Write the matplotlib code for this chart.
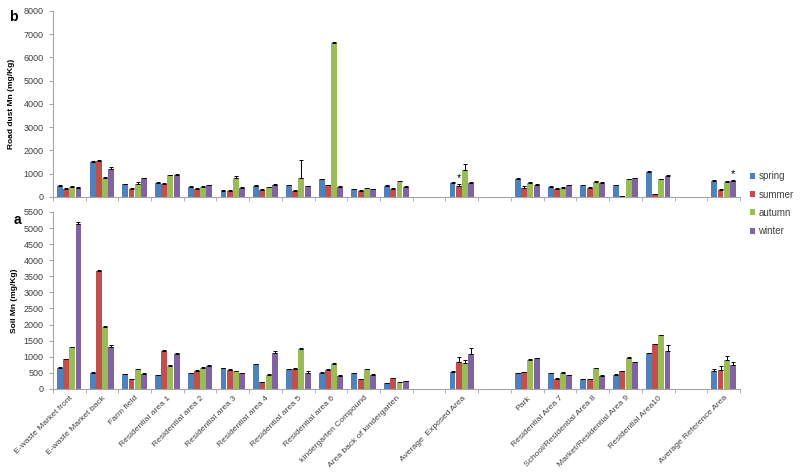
import matplotlib
matplotlib.use("Agg")
import matplotlib.pyplot as plt
import numpy as np

categories = ["E-waste Market front", "E-waste Market back", "Farm field", "Residential area 1",
              "Residential area 2", "Residential area 3", "Residential area 4", "Residential area 5",
              "Residential area 6", "kindergarten Compound", "Area back of kindergarten", "",
              "Average  Exposed Area", "", "Park", "Residential Area 7", "School/Residential Area 8",
              "Market/Residential Area 9", "Residential Area10", "", "Average Reference Area"]
seasons = ["spring", "summer", "autumn", "winter"]
colors = ["#4F81BD", "#C0504D", "#9BBB59", "#8064A2"]

nan = np.nan
# Road dust Mn (mg/Kg)
dust_spring = [480, 1500, 540, 600, 440, 270, 470, 500, 750, 340, 470, nan, 600, nan, 770, 440, 500, 500, 1070, nan, 690]
dust_summer = [340, 1560, 340, 560, 340, 270, 310, 260, 500, 270, 340, nan, 460, nan, 370, 340, 390, 30, 110, nan, 290]
dust_autumn = [440, 790, 570, 940, 440, 830, 410, 790, 6600, 370, 680, nan, 1160, nan, 600, 390, 640, 760, 760, nan, 640]
dust_winter = [400, 1210, 790, 960, 510, 390, 530, 460, 430, 340, 430, nan, 600, nan, 530, 510, 610, 790, 910, nan, 690]
dust_err_spring = [20, 20, 20, 20, 20, 15, 20, 20, 20, 15, 20, nan, 20, nan, 20, 20, 20, 20, 20, nan, 20]
dust_err_summer = [20, 20, 20, 20, 20, 15, 20, 20, 20, 15, 20, nan, 80, nan, 80, 20, 20, 10, 10, nan, 30]
dust_err_autumn = [20, 80, 60, 20, 20, 80, 20, 800, 80, 20, 20, nan, 260, nan, 20, 20, 20, 20, 20, nan, 20]
dust_err_winter = [20, 90, 20, 20, 20, 15, 20, 20, 20, 15, 20, nan, 20, nan, 20, 20, 20, 20, 20, nan, 20]

# Soil Mn (mg/Kg)
soil_spring = [660, 500, 460, 420, 480, 640, 770, 610, 500, 480, 170, nan, 530, nan, 480, 490, 300, 440, 1110, nan, 550]
soil_summer = [920, 3670, 300, 1180, 560, 580, 210, 620, 590, 300, 340, nan, 830, nan, 520, 320, 300, 550, 1390, nan, 600]
soil_autumn = [1290, 1910, 610, 710, 660, 550, 440, 1250, 790, 610, 200, nan, 800, nan, 900, 510, 640, 970, 1670, nan, 910]
soil_winter = [5120, 1310, 460, 1090, 720, 480, 1110, 500, 400, 440, 240, nan, 1090, nan, 950, 420, 400, 830, 1180, nan, 730]
soil_err_spring = [20, 15, 15, 15, 20, 20, 20, 20, 20, 20, 15, nan, 30, nan, 20, 20, 15, 20, 20, nan, 60]
soil_err_summer = [20, 30, 15, 30, 20, 30, 20, 20, 20, 15, 15, nan, 160, nan, 20, 15, 15, 20, 20, nan, 100]
soil_err_autumn = [20, 40, 20, 20, 20, 20, 20, 20, 20, 20, 15, nan, 100, nan, 20, 20, 20, 20, 20, nan, 100]
soil_err_winter = [80, 60, 40, 20, 30, 20, 60, 60, 20, 20, 15, nan, 190, nan, 20, 20, 20, 20, 170, nan, 110]

dust = [dust_spring, dust_summer, dust_autumn, dust_winter]
dust_err = [dust_err_spring, dust_err_summer, dust_err_autumn, dust_err_winter]
soil = [soil_spring, soil_summer, soil_autumn, soil_winter]
soil_err = [soil_err_spring, soil_err_summer, soil_err_autumn, soil_err_winter]

plt.rcParams["font.family"] = ["Liberation Sans", "DejaVu Sans"]

fig = plt.figure(figsize=(8, 4.72), dpi=100)
ax_top = fig.add_axes([0.066, 0.583, 0.859, 0.394])
ax_bot = fig.add_axes([0.066, 0.176, 0.859, 0.375])

x = np.arange(len(categories))
w = 0.19
offsets = (np.arange(4) - 1.5) * w
spine_col = "#A6A6A6"

def draw(ax, data, errs, ymax, step):
    handles = []
    for i in range(4):
        vals = np.array(data[i], dtype=float)
        e = np.array(errs[i], dtype=float)
        h = ax.bar(x + offsets[i], vals, width=w * 0.95, color=colors[i], label=seasons[i],
                   yerr=[np.zeros_like(e), e], error_kw=dict(ecolor="black", elinewidth=0.7,
                                                            capsize=1.5, capthick=0.7))
        handles.append(h)
    ax.set_xlim(-0.5, len(categories) - 0.5)
    ax.set_ylim(0, ymax)
    ax.set_yticks(np.arange(0, ymax + 1, step))
    ax.set_xticks(np.arange(-0.5, len(categories) + 0.5, 1), minor=True)
    ax.tick_params(axis="x", which="minor", length=3, color=spine_col, direction="out")
    ax.tick_params(axis="x", which="major", length=0)
    ax.tick_params(axis="y", labelsize=6.5, length=3, color=spine_col, colors="#404040")
    for s in ["top", "right"]:
        ax.spines[s].set_visible(False)
    for s in ["left", "bottom"]:
        ax.spines[s].set_color(spine_col)
        ax.spines[s].set_linewidth(0.8)
    return handles

handles = draw(ax_top, dust, dust_err, 8000, 1000)
ax_top.set_xticks(x)
ax_top.set_xticklabels([])
ax_top.set_ylabel("Road dust Mn (mg/Kg)", fontsize=6, fontweight="bold", labelpad=6)

draw(ax_bot, soil, soil_err, 5500, 500)
ax_bot.set_xticks(x)
ax_bot.set_xticklabels(categories, rotation=45, ha="right", rotation_mode="anchor",
                       fontsize=6.1, color="#404040")
ax_bot.tick_params(axis="x", which="major", pad=4)
ax_bot.set_ylabel("Soil Mn (mg/Kg)", fontsize=6, fontweight="bold", labelpad=4)

# significance markers
ax_top.text(x[12] + offsets[1], dust_summer[12] + dust_err_summer[12] + 40, "*", ha="center",
            va="bottom", fontsize=8)
ax_top.text(x[20] + offsets[3], dust_winter[20] + dust_err_winter[20] + 40, "*", ha="center",
            va="bottom", fontsize=8)

fig.text(0.011, 0.978, "b", fontsize=10, fontweight="bold", va="top")
fig.text(0.017, 0.534, "a", fontsize=10, fontweight="bold", va="center")

fig.legend(handles, seasons, loc="upper left", bbox_to_anchor=(0.937, 0.637), frameon=False,
           fontsize=7, handlelength=0.55, handleheight=0.55, labelspacing=0.85, handletextpad=0.35,
           borderaxespad=0, borderpad=0, labelcolor="#404040")

fig.savefig("out.png", dpi=100)
